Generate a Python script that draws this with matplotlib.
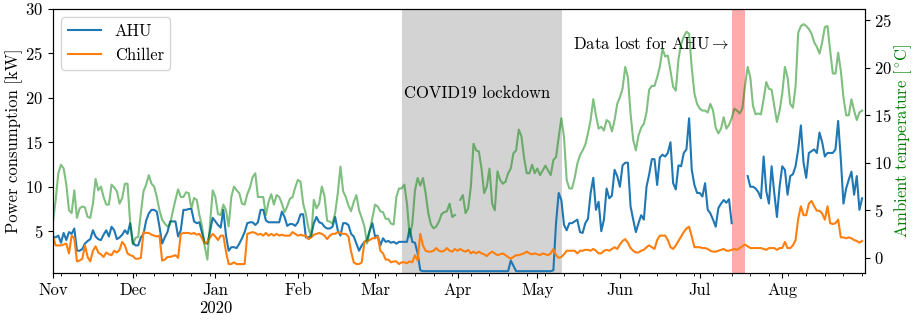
import numpy as np
import pandas as pd
import matplotlib
matplotlib.use('Agg')
import matplotlib.pyplot as plt
import matplotlib.dates as mdates

plt.rcParams['font.family'] = 'cmr10'
plt.rcParams['mathtext.fontset'] = 'cm'
plt.rcParams['axes.formatter.use_mathtext'] = True
plt.rcParams['font.size'] = 12

nan = np.nan

# Daily means, 1 Nov 2019 - 31 Aug 2020
# Ambient temperature [degC]
temp_nov = [3.8, 6.1, 8.9, 9.8, 9.4, 7.7, 5.0, 4.7, 7.1, 4.2, 5.2, 5.4, 5.3, 4.3, 4.2,
            5.7, 8.3, 7.1, 7.5, 6.4, 5.6, 5.6, 7.7, 7.4, 7.0, 5.7, 6.3, 7.8, 7.8, 3.6]
temp_dec = [1.4, 2.1, 2.2, 4.7, 7.0, 7.7, 8.7, 7.8, 7.5, 6.4, 5.0, 4.0, 3.6, 3.3, 3.5, 4.9,
            6.1, 7.2, 6.4, 6.4, 6.9, 6.8, 5.2, 6.3, 6.1, 4.5, 3.3, 1.2, -0.2, 3.6, 7.1]
temp_jan = [6.4, 4.6, 4.5, 5.6, 5.0, 3.3, 6.4, 7.5, 7.1, 6.8, 5.7, 5.6, 6.7, 7.4, 8.5, 8.9,
            6.4, 6.4, 6.4, 4.5, 5.9, 6.7, 5.6, 6.6, 6.4, 5.7, 4.8, 5.4, 6.2, 6.4, 7.4]
temp_feb = [8.2, 8.0, 5.7, 4.6, 3.1, 2.2, 6.1, 5.2, 5.7, 7.5, 6.5, 3.9, 3.8, 3.6, 4.7,
            6.8, 9.6, 7.0, 6.4, 5.5, 4.9, 5.9, 6.6, 5.0, 4.2, 3.3, 1.5, 2.8, 4.2]
temp_mar = [5.6, 5.4, 4.9, 4.8, 4.1, 4.1, 3.6, 3.5, 6.4, 7.3, 7.3, 7.7, 5.7, 2.2, 3.6, 7.1,
            8.4, 7.6, 8.4, 6.8, 4.7, 3.5, 3.1, 3.3, 3.8, 4.6, 4.8, 4.9, 5.7, 4.3, 4.5]
temp_apr = [nan, 6.1, 6.6, 4.7, 5.2, 7.5, 12.0, 11.3, 11.2, 9.4, 6.8, 7.5, 9.4, 5.7, 5.0,
            9.1, 8.2, 7.8, 8.0, 8.9, 9.4, 11.0, 11.3, 13.5, 12.8, 10.5, 8.9, 8.9, 9.8, 8.9]
temp_may = [9.4, 8.7, 9.2, 9.7, 9.2, 8.7, 10.3, 10.6, 12.7, 14.7, 12.7, 8.2, 7.3, 7.3, 8.4,
            9.9, 10.8, 11.3, 11.9, 13.1, 14.5, 16.7, 15.0, 13.6, 13.8, 13.4, 14.5, 14.3,
            13.3, 14.5, 16.2]
temp_jun = [16.9, 17.8, 20.1, 19.0, 15.2, 12.4, 11.3, 12.9, 13.7, 14.1, 15.3, 17.7, 18.1,
            18.1, 19.0, 20.1, 22.0, 21.2, 21.3, 19.7, 18.0, 17.6, 20.9, 22.5, 23.3, 23.8,
            23.6, 20.0, 17.3, 16.2]
temp_jul = [15.7, 15.5, 15.5, 15.3, 16.2, 15.5, 13.7, 13.1, 13.6, 14.8, 13.6, 14.0, 14.7,
            15.7, 15.5, 15.2, 15.7, 18.1, 20.1, 19.0, 16.0, 15.1, 15.2, 15.1, 16.7, 18.5,
            17.8, 17.7, 16.0, 14.3, 15.5]
temp_aug = [17.3, 20.1, 19.0, 16.2, 15.8, 18.0, 23.7, 24.4, 24.6, 24.4, 24.1, 23.6, 22.7,
            22.2, 21.5, 22.7, 24.3, 24.4, 21.8, 19.4, 19.4, 21.6, 19.7, 16.9, 15.0, 15.0,
            16.7, 15.5, 14.5, 15.3, 15.5]

# AHU power [kW]
ahu_nov = [4.4, 4.3, 4.5, 3.7, 4.8, 4.0, 4.9, 4.7, 5.3, 2.8, 2.8, 3.0, 3.6, 3.9, 4.1,
           5.1, 4.4, 4.1, 4.0, 4.6, 5.1, 4.4, 5.5, 5.1, 4.1, 4.3, 4.6, 5.1, 4.7, 5.9]
ahu_dec = [3.7, 3.4, 3.4, 4.3, 4.7, 6.2, 7.0, 7.4, 7.4, 7.2, 5.5, 3.6, 4.3, 4.9, 6.1, 6.1,
           6.1, 4.4, 5.1, 7.4, 7.4, 7.5, 7.5, 6.1, 5.9, 6.0, 4.8, 3.7, 3.6, 5.0, 6.5]
ahu_jan = [6.1, 5.7, 5.4, 7.4, 4.5, 2.8, 3.2, 3.2, 3.1, 3.6, 4.2, 4.9, 5.9, 6.0, 6.0, 5.7,
           6.0, 7.4, 7.4, 6.2, 6.0, 6.0, 6.0, 6.0, 6.0, 7.2, 6.6, 5.6, 5.8, 5.8, 5.6]
ahu_feb = [6.0, 6.9, 6.9, 4.3, 4.3, 4.5, 5.9, 6.6, 6.0, 5.9, 5.5, 5.3, 5.3, 5.5, 6.6,
           5.1, 4.5, 5.9, 5.9, 5.7, 4.7, 4.4, 3.6, 2.8, 3.4, 3.8, 4.0, 5.1, 5.9]
ahu_mar = [4.4, 4.5, 3.4, 4.2, 3.8, 3.9, 3.7, 3.8, 3.6, 3.8, 3.8, 3.8, 3.8, 5.3, 3.8, 3.7,
           2.5, 0.6, 0.5, 0.5, 0.5, 0.5, 0.5, 0.5, 0.5, 0.5, 0.5, 0.5, 0.5, 0.5, 0.5]
ahu_apr = [0.5, 0.5, 0.5, 0.5, 0.5, 0.5, 0.5, 0.5, 0.5, 0.5, 0.5, 0.5, 0.5, 0.5, 0.5,
           0.5, 0.5, 0.5, 0.5, 0.5, 1.7, 1.1, 0.5, 0.5, 0.5, 0.5, 0.5, 0.5, 0.5, 0.5]
ahu_may = [0.5, 0.5, 0.5, 0.5, 0.5, 0.5, 0.6, 5.9, 9.3, 8.5, 5.7, 5.1, 5.9, 5.9, 6.1, 6.3,
           4.9, 4.8, 5.9, 6.4, 9.3, 11.0, 7.4, 8.3, 5.0, 6.3, 9.8, 8.7, 9.0, 11.9, 11.2]
ahu_jun = [10.0, 12.4, 12.7, 12.7, 7.8, 6.3, 4.9, 5.9, 6.8, 6.3, 10.0, 11.4, 13.1, 13.1,
           10.2, 13.3, 13.6, 13.4, 13.8, 15.0, 10.4, 9.7, 12.4, 12.3, 13.8, 14.2, 17.7,
           11.9, 10.2, 9.3]
ahu_jul = [9.3, 8.9, 10.4, 7.4, 7.0, 6.3, 5.5, 7.6, 8.1, 8.5, 8.2, 8.6, 5.9,
           nan, nan, nan, nan, nan,
           11.2, 10.0, 10.0, 9.8, 9.4, 8.7, 13.4, 9.5, 8.1, 12.3, 9.3, 6.6, 10.0]
ahu_aug = [12.3, 11.9, 9.1, 11.2, 11.4, 12.3, 14.2, 16.9, 12.7, 11.0, 13.8, 14.0, 14.2,
           13.8, 16.1, 15.0, 13.4, 13.8, 13.8, 13.8, 14.2, 17.4, 13.1, 8.1, 9.8, 10.8,
           11.7, 9.1, 11.2, 7.4, 8.7]

# Chiller power [kW]
chl_nov = [4.4, 3.4, 3.4, 3.4, 3.5, 3.6, 2.5, 4.5, 4.2, 1.6, 1.7, 1.9, 3.4, 2.1, 1.6,
           2.8, 3.3, 2.6, 2.4, 2.1, 2.6, 2.4, 2.3, 2.8, 2.6, 2.9, 3.8, 3.4, 2.5, 2.3]
chl_dec = [2.2, 1.9, 1.9, 2.0, 4.9, 4.8, 4.8, 4.6, 4.5, 4.4, 4.5, 1.7, 1.8, 2.1, 2.1, 2.2,
           2.3, 2.0, 4.7, 4.8, 4.8, 4.8, 4.7, 4.8, 4.6, 4.7, 4.2, 3.6, 3.8, 4.3, 4.7]
chl_jan = [4.4, 4.0, 4.5, 4.5, 2.7, 1.3, 1.3, 1.5, 1.3, 1.3, 1.3, 1.3, 4.7, 4.8, 4.9, 4.8,
           4.6, 4.7, 4.5, 4.8, 4.5, 4.7, 4.5, 4.7, 4.5, 4.6, 4.5, 4.5, 4.5, 4.9, 4.7]
chl_feb = [4.5, 4.6, 4.5, 4.5, 4.1, 4.3, 4.6, 4.7, 4.8, 4.7, 4.5, 4.1, 4.5, 4.7, 4.7,
           4.9, 4.8, 4.7, 4.7, 4.4, 2.7, 1.5, 1.3, 1.3, 1.5, 3.8, 3.9, 4.0, 4.2]
chl_mar = [4.2, 4.4, 2.8, 2.5, 1.8, 1.8, 1.5, 1.6, 1.6, 1.3, 1.5, 1.5, 1.4, 1.6, 1.5, 2.3,
           1.7, 4.7, 3.4, 2.8, 2.7, 2.7, 2.8, 3.1, 2.8, 2.7, 2.8, 3.1, 2.8, 2.7, 3.0]
chl_apr = [2.8, 3.0, 2.8, 2.7, 2.9, 2.5, 2.7, 2.5, 2.7, 2.5, 2.4, 2.2, 2.5, 2.7, 2.5,
           2.3, 2.4, 2.5, 2.3, 2.1, 1.9, 2.1, 2.3, 2.3, 2.4, 2.5, 2.7, 2.5, 2.4, 2.5]
chl_may = [2.4, 2.3, 2.5, 2.4, 2.3, 2.5, 3.0, 2.3, 2.0, 2.1, 2.4, 2.8, 2.8, 2.8, 2.8, 2.5,
           2.8, 2.8, 2.9, 2.9, 2.8, 3.0, 2.8, 2.5, 2.5, 2.8, 2.9, 2.8, 3.0, 3.2, 3.0]
chl_jun = [3.5, 3.9, 4.1, 3.7, 3.1, 2.8, 2.6, 2.6, 2.8, 2.9, 3.2, 3.4, 3.2, 3.0, 4.0,
           4.5, 4.5, 4.5, 4.0, 3.2, 3.0, 3.4, 3.9, 4.4, 4.9, 5.3, 5.5, 4.4, 3.2, 3.2]
chl_jul = [3.2, 3.1, 3.1, 3.0, 2.8, 2.7, 2.7, 2.8, 2.9, 3.0, 2.8, 2.8, 2.9, 3.0, 2.9, 3.1,
           3.3, 3.5, 3.3, 3.1, 3.1, 3.1, 3.1, 3.1, 3.0, 2.9, 3.1, 3.1, 3.1, 2.9, 3.1]
chl_aug = [3.1, 3.8, 3.1, 3.1, 3.4, 4.0, 6.4, 7.8, 6.8, 6.8, 8.1, 8.4, 7.8, 7.3, 7.3, 7.0,
           6.3, 7.8, 5.9, 5.8, 5.9, 6.3, 4.3, 4.3, 4.2, 4.3, 4.2, 4.0, 3.9, 3.7, 3.9]

month_labels = ['Nov', 'Dec', 'Jan\n2020', 'Feb', 'Mar', 'Apr', 'May', 'Jun', 'Jul', 'Aug']

days = pd.date_range('2019-11-01', '2020-08-31', freq='D')
temp = np.array(temp_nov + temp_dec + temp_jan + temp_feb + temp_mar + temp_apr
                + temp_may + temp_jun + temp_jul + temp_aug, dtype=float)
ahu = np.array(ahu_nov + ahu_dec + ahu_jan + ahu_feb + ahu_mar + ahu_apr
               + ahu_may + ahu_jun + ahu_jul + ahu_aug, dtype=float)
chiller = np.array(chl_nov + chl_dec + chl_jan + chl_feb + chl_mar + chl_apr
                   + chl_may + chl_jun + chl_jul + chl_aug, dtype=float)

fig, ax = plt.subplots(figsize=(9.14, 3.2))
fig.subplots_adjust(left=0.058, right=0.946, bottom=0.147, top=0.972)

# lockdown period and the AHU logging outage
ax.axvspan(pd.Timestamp('2020-03-11'), pd.Timestamp('2020-05-10 06:00'),
           color='lightgray', lw=0)
ax.axvspan(pd.Timestamp('2020-07-13'), pd.Timestamp('2020-07-18'),
           color='r', alpha=0.33, lw=0)

ax.plot(days, ahu, label='AHU')
ax.plot(days, chiller, label='Chiller')
ax.set_ylim(0.3, 30)
ax.set_ylabel('Power consumption [kW]', labelpad=2)

ax.text(pd.Timestamp('2020-03-12'), 20, 'COVID19 lockdown')
ax.text(pd.Timestamp('2020-05-14 12:00'), 25.5, r'Data lost for AHU$\rightarrow$')

ax.set_xticks(pd.date_range('2019-11-01', '2020-08-01', freq='MS'))
ax.set_xticklabels(month_labels)
ax.xaxis.set_minor_locator(mdates.WeekdayLocator(byweekday=mdates.MO))
ax.set_xlim(pd.Timestamp('2019-11-01'), pd.Timestamp('2020-08-31 23:00'))
ax.legend(loc='upper left')

ax2 = ax.twinx()
ax2.plot(days, temp, color='g', alpha=0.5)
ax2.set_ylim(-1.6, 26.2)
ax2.set_ylabel(r'Ambient temperature [$^\circ\!$C]', color='g', labelpad=0)

fig.savefig('out.png', dpi=100)
